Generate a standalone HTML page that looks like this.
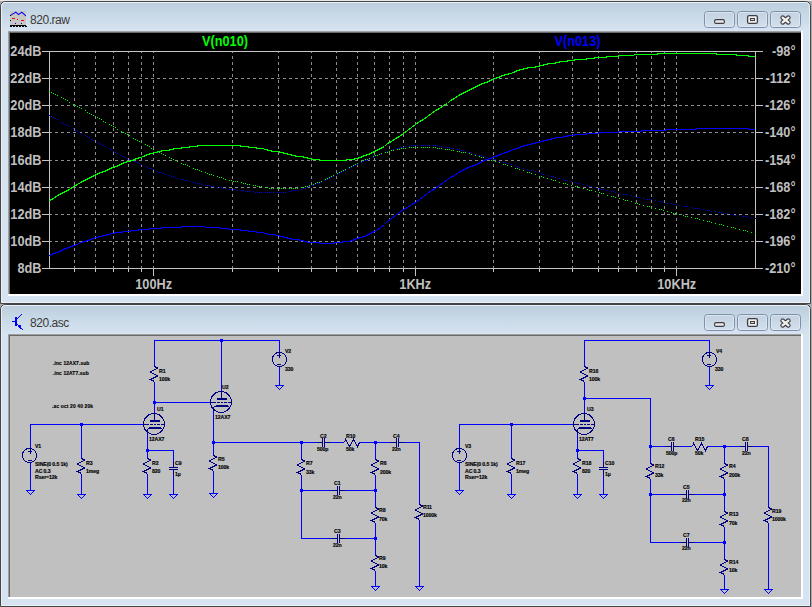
<!DOCTYPE html><html><head><meta charset="utf-8"><style>html,body{margin:0;padding:0;background:#ababab;width:812px;height:607px;overflow:hidden}svg{display:block}text{font-family:"Liberation Sans",sans-serif}</style></head><body>
<svg width="812" height="607" viewBox="0 0 812 607">
<defs>
<linearGradient id="tg" x1="0" y1="0" x2="0" y2="1"><stop offset="0" stop-color="#bccfde"/><stop offset="1" stop-color="#d7e4f1"/></linearGradient>
<linearGradient id="bg" x1="0" y1="0" x2="0" y2="1"><stop offset="0" stop-color="#c3d2e1"/><stop offset="1" stop-color="#d3dfec"/></linearGradient>
</defs>
<rect x="0" y="0" width="812" height="1" fill="#e8e8e8"/>
<path d="M0.5 303.5 V7 Q0.5 1.5 6 1.5 H805 Q810.5 1.5 810.5 7 V303.5 Z" fill="#d6e3f0" stroke="#454545" stroke-width="1"/>
<path d="M1.5 302.5 V7 Q1.5 2.5 6 2.5 H805 Q809.5 2.5 809.5 7 V302.5 Z" fill="none" stroke="#eaf0f7" stroke-width="1"/>
<path d="M2 31 V7 Q2 3 6 3 H805 Q809 3 809 7 V31 Z" fill="url(#tg)"/>
<g shape-rendering="crispEdges">
<rect x="8" y="31" width="794" height="1" fill="#a0a0a0"/>
<rect x="8" y="31" width="1" height="264" fill="#a0a0a0"/>
<rect x="9" y="32" width="792" height="1" fill="#696969"/>
<rect x="9" y="32" width="1" height="262" fill="#696969"/>
<rect x="8" y="294" width="795" height="2" fill="#ffffff"/>
<rect x="801" y="31" width="2" height="265" fill="#ffffff"/>
</g>
<text x="30" y="24" font-size="12" fill="#3a3a3a" style="letter-spacing:-0.45px">820.raw</text>
<rect x="704.5" y="11.5" width="30" height="16" rx="3" fill="url(#bg)" stroke="#7f8fab" stroke-width="1"/>
<rect x="705.5" y="12.5" width="28" height="14" rx="2" fill="none" stroke="#e4ecf4" stroke-opacity="0.7" stroke-width="1"/>
<rect x="714.6" y="19.6" width="9.8" height="3.8" rx="1.5" fill="#ebe9e4" stroke="#3d3d48" stroke-width="1.2"/>
<rect x="737.5" y="11.5" width="30" height="16" rx="3" fill="url(#bg)" stroke="#7f8fab" stroke-width="1"/>
<rect x="738.5" y="12.5" width="28" height="14" rx="2" fill="none" stroke="#e4ecf4" stroke-opacity="0.7" stroke-width="1"/>
<rect x="747.6" y="15.6" width="9.8" height="7.8" rx="1.5" fill="#f0efe9" stroke="#3d3d48" stroke-width="1.3"/>
<rect x="750.5" y="18.5" width="4" height="2" fill="#d8d8d8" stroke="#3d3d48" stroke-width="1"/>
<rect x="770.5" y="11.5" width="30" height="16" rx="3" fill="url(#bg)" stroke="#7f8fab" stroke-width="1"/>
<rect x="771.5" y="12.5" width="28" height="14" rx="2" fill="none" stroke="#e4ecf4" stroke-opacity="0.7" stroke-width="1"/>
<path d="M782.6 17.6 L788.4 22.4 M788.4 17.6 L782.6 22.4" stroke="#3d3d48" stroke-width="4.6" stroke-linecap="round"/>
<path d="M782.6 17.6 L788.4 22.4 M788.4 17.6 L782.6 22.4" stroke="#f2f1ec" stroke-width="2.3" stroke-linecap="round"/>
<g shape-rendering="crispEdges"><rect x="10" y="11" width="16" height="15" fill="#c6c6c6"/>
</g>
<polyline points="10.2,15.6 15.8,12.1 18.5,14.6 21.8,12.1 25.8,15.8" fill="none" stroke="#0000ff" stroke-width="1.1"/>
<g shape-rendering="crispEdges">
<rect x="10" y="15" width="1" height="1" fill="#000"/>
<rect x="12" y="18" width="3" height="1" fill="#ff0000"/>
<rect x="17" y="19" width="1" height="1" fill="#ff0000"/>
<rect x="21" y="20" width="3" height="1" fill="#ff0000"/>
<rect x="10" y="20" width="1" height="1" fill="#000"/>
<rect x="15" y="23" width="1" height="1" fill="#0000c0"/>
<rect x="21" y="23" width="1" height="1" fill="#0000c0"/>
<rect x="10" y="25" width="16" height="1" fill="#000"/>
<rect x="10" y="26" width="2" height="1" fill="#000"/>
<rect x="13" y="26" width="2" height="1" fill="#000"/>
<rect x="16" y="26" width="2" height="1" fill="#000"/>
<rect x="19" y="26" width="2" height="1" fill="#000"/>
<rect x="22" y="26" width="2" height="1" fill="#000"/>
<rect x="25" y="26" width="2" height="1" fill="#000"/>
</g>
<path d="M0.5 606.5 V310 Q0.5 304.5 6 304.5 H805 Q810.5 304.5 810.5 310 V606.5 Z" fill="#d6e3f0" stroke="#454545" stroke-width="1"/>
<path d="M1.5 605.5 V310 Q1.5 305.5 6 305.5 H805 Q809.5 305.5 809.5 310 V605.5 Z" fill="none" stroke="#eaf0f7" stroke-width="1"/>
<path d="M2 334 V310 Q2 306 6 306 H805 Q809 306 809 310 V334 Z" fill="url(#tg)"/>
<g shape-rendering="crispEdges">
<rect x="8" y="334" width="794" height="1" fill="#a0a0a0"/>
<rect x="8" y="334" width="1" height="264" fill="#a0a0a0"/>
<rect x="9" y="335" width="792" height="1" fill="#696969"/>
<rect x="9" y="335" width="1" height="262" fill="#696969"/>
<rect x="8" y="597" width="795" height="2" fill="#ffffff"/>
<rect x="801" y="334" width="2" height="265" fill="#ffffff"/>
</g>
<text x="30" y="327" font-size="12" fill="#3a3a3a" style="letter-spacing:-0.45px">820.asc</text>
<rect x="704.5" y="314.5" width="30" height="16" rx="3" fill="url(#bg)" stroke="#7f8fab" stroke-width="1"/>
<rect x="705.5" y="315.5" width="28" height="14" rx="2" fill="none" stroke="#e4ecf4" stroke-opacity="0.7" stroke-width="1"/>
<rect x="714.6" y="322.6" width="9.8" height="3.8" rx="1.5" fill="#ebe9e4" stroke="#3d3d48" stroke-width="1.2"/>
<rect x="737.5" y="314.5" width="30" height="16" rx="3" fill="url(#bg)" stroke="#7f8fab" stroke-width="1"/>
<rect x="738.5" y="315.5" width="28" height="14" rx="2" fill="none" stroke="#e4ecf4" stroke-opacity="0.7" stroke-width="1"/>
<rect x="747.6" y="318.6" width="9.8" height="7.8" rx="1.5" fill="#f0efe9" stroke="#3d3d48" stroke-width="1.3"/>
<rect x="750.5" y="321.5" width="4" height="2" fill="#d8d8d8" stroke="#3d3d48" stroke-width="1"/>
<rect x="770.5" y="314.5" width="30" height="16" rx="3" fill="url(#bg)" stroke="#7f8fab" stroke-width="1"/>
<rect x="771.5" y="315.5" width="28" height="14" rx="2" fill="none" stroke="#e4ecf4" stroke-opacity="0.7" stroke-width="1"/>
<path d="M782.6 320.6 L788.4 325.4 M788.4 320.6 L782.6 325.4" stroke="#3d3d48" stroke-width="4.6" stroke-linecap="round"/>
<path d="M782.6 320.6 L788.4 325.4 M788.4 320.6 L782.6 325.4" stroke="#f2f1ec" stroke-width="2.3" stroke-linecap="round"/>
<g shape-rendering="crispEdges">
<rect x="12" y="321" width="3" height="1" fill="#0000ff"/>
<rect x="15" y="317" width="2" height="9" fill="#0000ff"/>
<rect x="17" y="318" width="1" height="1" fill="#0000ff"/>
<rect x="18" y="317" width="1" height="1" fill="#0000ff"/>
<rect x="19" y="316" width="1" height="1" fill="#0000ff"/>
<rect x="20" y="315" width="1" height="1" fill="#0000ff"/>
<rect x="21" y="314" width="1" height="1" fill="#0000ff"/>
<rect x="17" y="324" width="1" height="1" fill="#0000ff"/>
<rect x="18" y="325" width="1" height="1" fill="#0000ff"/>
<rect x="19" y="326" width="1" height="1" fill="#0000ff"/>
<rect x="20" y="327" width="1" height="1" fill="#0000ff"/>
<rect x="21" y="328" width="1" height="1" fill="#0000ff"/>
<rect x="22" y="329" width="1" height="1" fill="#0000ff"/>
<rect x="18" y="326" width="2" height="1" fill="#0000ff"/>
<rect x="19" y="325" width="2" height="3" fill="#0000ff"/>
<rect x="20" y="327" width="1" height="2" fill="#0000ff"/>
</g>
<rect x="10" y="33" width="791" height="261" fill="#000"/>
<g shape-rendering="crispEdges">
<line x1="74.5" y1="51" x2="74.5" y2="268.5" stroke="#8c8c8c" stroke-width="1" stroke-dasharray="3 3" stroke-dashoffset="1"/>
<line x1="74.5" y1="268.5" x2="74.5" y2="271.5" stroke="#c4c4c4" stroke-width="1"/>
<line x1="95.5" y1="51" x2="95.5" y2="268.5" stroke="#8c8c8c" stroke-width="1" stroke-dasharray="3 3" stroke-dashoffset="1"/>
<line x1="95.5" y1="268.5" x2="95.5" y2="271.5" stroke="#c4c4c4" stroke-width="1"/>
<line x1="113.5" y1="51" x2="113.5" y2="268.5" stroke="#8c8c8c" stroke-width="1" stroke-dasharray="3 3" stroke-dashoffset="1"/>
<line x1="113.5" y1="268.5" x2="113.5" y2="271.5" stroke="#c4c4c4" stroke-width="1"/>
<line x1="128.5" y1="51" x2="128.5" y2="268.5" stroke="#8c8c8c" stroke-width="1" stroke-dasharray="3 3" stroke-dashoffset="1"/>
<line x1="128.5" y1="268.5" x2="128.5" y2="271.5" stroke="#c4c4c4" stroke-width="1"/>
<line x1="141.5" y1="51" x2="141.5" y2="268.5" stroke="#8c8c8c" stroke-width="1" stroke-dasharray="3 3" stroke-dashoffset="1"/>
<line x1="141.5" y1="268.5" x2="141.5" y2="271.5" stroke="#c4c4c4" stroke-width="1"/>
<line x1="153.5" y1="51" x2="153.5" y2="268.5" stroke="#8c8c8c" stroke-width="1" stroke-dasharray="3 3" stroke-dashoffset="1"/>
<line x1="153.5" y1="268.5" x2="153.5" y2="275.5" stroke="#c4c4c4" stroke-width="1"/>
<line x1="232.5" y1="51" x2="232.5" y2="268.5" stroke="#8c8c8c" stroke-width="1" stroke-dasharray="3 3" stroke-dashoffset="1"/>
<line x1="232.5" y1="268.5" x2="232.5" y2="271.5" stroke="#c4c4c4" stroke-width="1"/>
<line x1="278.5" y1="51" x2="278.5" y2="268.5" stroke="#8c8c8c" stroke-width="1" stroke-dasharray="3 3" stroke-dashoffset="1"/>
<line x1="278.5" y1="268.5" x2="278.5" y2="271.5" stroke="#c4c4c4" stroke-width="1"/>
<line x1="311.5" y1="51" x2="311.5" y2="268.5" stroke="#8c8c8c" stroke-width="1" stroke-dasharray="3 3" stroke-dashoffset="1"/>
<line x1="311.5" y1="268.5" x2="311.5" y2="271.5" stroke="#c4c4c4" stroke-width="1"/>
<line x1="336.5" y1="51" x2="336.5" y2="268.5" stroke="#8c8c8c" stroke-width="1" stroke-dasharray="3 3" stroke-dashoffset="1"/>
<line x1="336.5" y1="268.5" x2="336.5" y2="271.5" stroke="#c4c4c4" stroke-width="1"/>
<line x1="357.5" y1="51" x2="357.5" y2="268.5" stroke="#8c8c8c" stroke-width="1" stroke-dasharray="3 3" stroke-dashoffset="1"/>
<line x1="357.5" y1="268.5" x2="357.5" y2="271.5" stroke="#c4c4c4" stroke-width="1"/>
<line x1="374.5" y1="51" x2="374.5" y2="268.5" stroke="#8c8c8c" stroke-width="1" stroke-dasharray="3 3" stroke-dashoffset="1"/>
<line x1="374.5" y1="268.5" x2="374.5" y2="271.5" stroke="#c4c4c4" stroke-width="1"/>
<line x1="389.5" y1="51" x2="389.5" y2="268.5" stroke="#8c8c8c" stroke-width="1" stroke-dasharray="3 3" stroke-dashoffset="1"/>
<line x1="389.5" y1="268.5" x2="389.5" y2="271.5" stroke="#c4c4c4" stroke-width="1"/>
<line x1="403.5" y1="51" x2="403.5" y2="268.5" stroke="#8c8c8c" stroke-width="1" stroke-dasharray="3 3" stroke-dashoffset="1"/>
<line x1="403.5" y1="268.5" x2="403.5" y2="271.5" stroke="#c4c4c4" stroke-width="1"/>
<line x1="415.5" y1="51" x2="415.5" y2="268.5" stroke="#8c8c8c" stroke-width="1" stroke-dasharray="3 3" stroke-dashoffset="1"/>
<line x1="415.5" y1="268.5" x2="415.5" y2="275.5" stroke="#c4c4c4" stroke-width="1"/>
<line x1="493.5" y1="51" x2="493.5" y2="268.5" stroke="#8c8c8c" stroke-width="1" stroke-dasharray="3 3" stroke-dashoffset="1"/>
<line x1="493.5" y1="268.5" x2="493.5" y2="271.5" stroke="#c4c4c4" stroke-width="1"/>
<line x1="539.5" y1="51" x2="539.5" y2="268.5" stroke="#8c8c8c" stroke-width="1" stroke-dasharray="3 3" stroke-dashoffset="1"/>
<line x1="539.5" y1="268.5" x2="539.5" y2="271.5" stroke="#c4c4c4" stroke-width="1"/>
<line x1="572.5" y1="51" x2="572.5" y2="268.5" stroke="#8c8c8c" stroke-width="1" stroke-dasharray="3 3" stroke-dashoffset="1"/>
<line x1="572.5" y1="268.5" x2="572.5" y2="271.5" stroke="#c4c4c4" stroke-width="1"/>
<line x1="598.5" y1="51" x2="598.5" y2="268.5" stroke="#8c8c8c" stroke-width="1" stroke-dasharray="3 3" stroke-dashoffset="1"/>
<line x1="598.5" y1="268.5" x2="598.5" y2="271.5" stroke="#c4c4c4" stroke-width="1"/>
<line x1="618.5" y1="51" x2="618.5" y2="268.5" stroke="#8c8c8c" stroke-width="1" stroke-dasharray="3 3" stroke-dashoffset="1"/>
<line x1="618.5" y1="268.5" x2="618.5" y2="271.5" stroke="#c4c4c4" stroke-width="1"/>
<line x1="636.5" y1="51" x2="636.5" y2="268.5" stroke="#8c8c8c" stroke-width="1" stroke-dasharray="3 3" stroke-dashoffset="1"/>
<line x1="636.5" y1="268.5" x2="636.5" y2="271.5" stroke="#c4c4c4" stroke-width="1"/>
<line x1="651.5" y1="51" x2="651.5" y2="268.5" stroke="#8c8c8c" stroke-width="1" stroke-dasharray="3 3" stroke-dashoffset="1"/>
<line x1="651.5" y1="268.5" x2="651.5" y2="271.5" stroke="#c4c4c4" stroke-width="1"/>
<line x1="664.5" y1="51" x2="664.5" y2="268.5" stroke="#8c8c8c" stroke-width="1" stroke-dasharray="3 3" stroke-dashoffset="1"/>
<line x1="664.5" y1="268.5" x2="664.5" y2="271.5" stroke="#c4c4c4" stroke-width="1"/>
<line x1="676.5" y1="51" x2="676.5" y2="268.5" stroke="#8c8c8c" stroke-width="1" stroke-dasharray="3 3" stroke-dashoffset="1"/>
<line x1="676.5" y1="268.5" x2="676.5" y2="275.5" stroke="#c4c4c4" stroke-width="1"/>
<line x1="42" y1="51.5" x2="49.5" y2="51.5" stroke="#c4c4c4" stroke-width="1"/>
<line x1="755.5" y1="51.5" x2="763" y2="51.5" stroke="#c4c4c4" stroke-width="1"/>
<line x1="49" y1="78.5" x2="755.5" y2="78.5" stroke="#8c8c8c" stroke-width="1" stroke-dasharray="3 3"/>
<line x1="42" y1="78.5" x2="49.5" y2="78.5" stroke="#c4c4c4" stroke-width="1"/>
<line x1="755.5" y1="78.5" x2="763" y2="78.5" stroke="#c4c4c4" stroke-width="1"/>
<line x1="49" y1="105.5" x2="755.5" y2="105.5" stroke="#8c8c8c" stroke-width="1" stroke-dasharray="3 3"/>
<line x1="42" y1="105.5" x2="49.5" y2="105.5" stroke="#c4c4c4" stroke-width="1"/>
<line x1="755.5" y1="105.5" x2="763" y2="105.5" stroke="#c4c4c4" stroke-width="1"/>
<line x1="49" y1="132.5" x2="755.5" y2="132.5" stroke="#8c8c8c" stroke-width="1" stroke-dasharray="3 3"/>
<line x1="42" y1="132.5" x2="49.5" y2="132.5" stroke="#c4c4c4" stroke-width="1"/>
<line x1="755.5" y1="132.5" x2="763" y2="132.5" stroke="#c4c4c4" stroke-width="1"/>
<line x1="49" y1="160.5" x2="755.5" y2="160.5" stroke="#8c8c8c" stroke-width="1" stroke-dasharray="3 3"/>
<line x1="42" y1="160.5" x2="49.5" y2="160.5" stroke="#c4c4c4" stroke-width="1"/>
<line x1="755.5" y1="160.5" x2="763" y2="160.5" stroke="#c4c4c4" stroke-width="1"/>
<line x1="49" y1="187.5" x2="755.5" y2="187.5" stroke="#8c8c8c" stroke-width="1" stroke-dasharray="3 3"/>
<line x1="42" y1="187.5" x2="49.5" y2="187.5" stroke="#c4c4c4" stroke-width="1"/>
<line x1="755.5" y1="187.5" x2="763" y2="187.5" stroke="#c4c4c4" stroke-width="1"/>
<line x1="49" y1="214.5" x2="755.5" y2="214.5" stroke="#8c8c8c" stroke-width="1" stroke-dasharray="3 3"/>
<line x1="42" y1="214.5" x2="49.5" y2="214.5" stroke="#c4c4c4" stroke-width="1"/>
<line x1="755.5" y1="214.5" x2="763" y2="214.5" stroke="#c4c4c4" stroke-width="1"/>
<line x1="49" y1="241.5" x2="755.5" y2="241.5" stroke="#8c8c8c" stroke-width="1" stroke-dasharray="3 3"/>
<line x1="42" y1="241.5" x2="49.5" y2="241.5" stroke="#c4c4c4" stroke-width="1"/>
<line x1="755.5" y1="241.5" x2="763" y2="241.5" stroke="#c4c4c4" stroke-width="1"/>
<line x1="42" y1="268.5" x2="49.5" y2="268.5" stroke="#c4c4c4" stroke-width="1"/>
<line x1="755.5" y1="268.5" x2="763" y2="268.5" stroke="#c4c4c4" stroke-width="1"/>
<rect x="49.5" y="51.5" width="706.0" height="217.0" fill="none" stroke="#c4c4c4" stroke-width="1"/>
</g>
<text transform="translate(41.5,56.0) scale(0.91,1)" font-size="14" font-weight="bold" fill="#bfbfbf" text-anchor="end">24dB</text>
<text transform="translate(795.5,56.0) scale(0.91,1)" font-size="14" font-weight="bold" fill="#bfbfbf" text-anchor="end">-98°</text>
<text transform="translate(41.5,83.125) scale(0.91,1)" font-size="14" font-weight="bold" fill="#bfbfbf" text-anchor="end">22dB</text>
<text transform="translate(795.5,83.125) scale(0.91,1)" font-size="14" font-weight="bold" fill="#bfbfbf" text-anchor="end">-112°</text>
<text transform="translate(41.5,110.25) scale(0.91,1)" font-size="14" font-weight="bold" fill="#bfbfbf" text-anchor="end">20dB</text>
<text transform="translate(795.5,110.25) scale(0.91,1)" font-size="14" font-weight="bold" fill="#bfbfbf" text-anchor="end">-126°</text>
<text transform="translate(41.5,137.375) scale(0.91,1)" font-size="14" font-weight="bold" fill="#bfbfbf" text-anchor="end">18dB</text>
<text transform="translate(795.5,137.375) scale(0.91,1)" font-size="14" font-weight="bold" fill="#bfbfbf" text-anchor="end">-140°</text>
<text transform="translate(41.5,164.5) scale(0.91,1)" font-size="14" font-weight="bold" fill="#bfbfbf" text-anchor="end">16dB</text>
<text transform="translate(795.5,164.5) scale(0.91,1)" font-size="14" font-weight="bold" fill="#bfbfbf" text-anchor="end">-154°</text>
<text transform="translate(41.5,191.625) scale(0.91,1)" font-size="14" font-weight="bold" fill="#bfbfbf" text-anchor="end">14dB</text>
<text transform="translate(795.5,191.625) scale(0.91,1)" font-size="14" font-weight="bold" fill="#bfbfbf" text-anchor="end">-168°</text>
<text transform="translate(41.5,218.75) scale(0.91,1)" font-size="14" font-weight="bold" fill="#bfbfbf" text-anchor="end">12dB</text>
<text transform="translate(795.5,218.75) scale(0.91,1)" font-size="14" font-weight="bold" fill="#bfbfbf" text-anchor="end">-182°</text>
<text transform="translate(41.5,245.875) scale(0.91,1)" font-size="14" font-weight="bold" fill="#bfbfbf" text-anchor="end">10dB</text>
<text transform="translate(795.5,245.875) scale(0.91,1)" font-size="14" font-weight="bold" fill="#bfbfbf" text-anchor="end">-196°</text>
<text transform="translate(41.5,273.0) scale(0.91,1)" font-size="14" font-weight="bold" fill="#bfbfbf" text-anchor="end">8dB</text>
<text transform="translate(795.5,273.0) scale(0.91,1)" font-size="14" font-weight="bold" fill="#bfbfbf" text-anchor="end">-210°</text>
<text transform="translate(153.69,289) scale(0.91,1)" font-size="14" font-weight="bold" fill="#bfbfbf" text-anchor="middle">100Hz</text>
<text transform="translate(415.21,289) scale(0.91,1)" font-size="14" font-weight="bold" fill="#bfbfbf" text-anchor="middle">1KHz</text>
<text transform="translate(676.73,289) scale(0.91,1)" font-size="14" font-weight="bold" fill="#bfbfbf" text-anchor="middle">10KHz</text>
<text transform="translate(225,46) scale(0.91,1)" font-size="14" font-weight="bold" fill="#00ff00" text-anchor="middle">V(n010)</text>
<text transform="translate(577.5,46) scale(0.91,1)" font-size="14" font-weight="bold" fill="#0000ff" text-anchor="middle">V(n013)</text>
<svg x="49" y="33" width="707" height="235.5" overflow="hidden">
<g transform="translate(-49,-33)">
<g fill="#0000ff" shape-rendering="crispEdges"><rect x="49" y="115" width="1" height="1"/><rect x="51" y="116" width="1" height="1"/><rect x="53" y="117" width="1" height="1"/><rect x="55" y="118" width="1" height="1"/><rect x="57" y="119" width="1" height="1"/><rect x="61" y="122" width="1" height="1"/><rect x="63" y="123" width="1" height="1"/><rect x="65" y="124" width="1" height="1"/><rect x="67" y="125" width="1" height="1"/><rect x="69" y="126" width="1" height="1"/><rect x="73" y="128" width="1" height="1"/><rect x="75" y="130" width="1" height="1"/><rect x="77" y="131" width="1" height="1"/><rect x="79" y="132" width="1" height="1"/><rect x="81" y="133" width="1" height="1"/><rect x="85" y="135" width="1" height="1"/><rect x="87" y="136" width="1" height="1"/><rect x="89" y="137" width="1" height="1"/><rect x="91" y="139" width="1" height="1"/><rect x="93" y="140" width="1" height="1"/><rect x="97" y="142" width="1" height="1"/><rect x="99" y="143" width="1" height="1"/><rect x="101" y="144" width="1" height="1"/><rect x="103" y="145" width="1" height="1"/><rect x="105" y="146" width="1" height="1"/><rect x="109" y="148" width="1" height="1"/><rect x="111" y="149" width="1" height="1"/><rect x="113" y="151" width="1" height="1"/><rect x="115" y="152" width="1" height="1"/><rect x="117" y="153" width="1" height="1"/><rect x="121" y="155" width="1" height="1"/><rect x="123" y="156" width="1" height="1"/><rect x="125" y="157" width="1" height="1"/><rect x="127" y="158" width="1" height="1"/><rect x="129" y="159" width="1" height="1"/><rect x="133" y="161" width="1" height="1"/><rect x="135" y="161" width="1" height="1"/><rect x="137" y="162" width="1" height="1"/><rect x="139" y="163" width="1" height="1"/><rect x="141" y="164" width="1" height="1"/><rect x="145" y="166" width="1" height="1"/><rect x="147" y="167" width="1" height="1"/><rect x="149" y="168" width="1" height="1"/><rect x="151" y="168" width="1" height="1"/><rect x="153" y="169" width="1" height="1"/><rect x="157" y="171" width="1" height="1"/><rect x="159" y="172" width="1" height="1"/><rect x="161" y="172" width="1" height="1"/><rect x="163" y="173" width="1" height="1"/><rect x="165" y="174" width="1" height="1"/><rect x="169" y="175" width="1" height="1"/><rect x="171" y="176" width="1" height="1"/><rect x="173" y="176" width="1" height="1"/><rect x="175" y="177" width="1" height="1"/><rect x="177" y="178" width="1" height="1"/><rect x="181" y="179" width="1" height="1"/><rect x="183" y="179" width="1" height="1"/><rect x="185" y="180" width="1" height="1"/><rect x="187" y="180" width="1" height="1"/><rect x="189" y="181" width="1" height="1"/><rect x="193" y="182" width="1" height="1"/><rect x="195" y="182" width="1" height="1"/><rect x="197" y="183" width="1" height="1"/><rect x="199" y="183" width="1" height="1"/><rect x="201" y="184" width="1" height="1"/><rect x="205" y="185" width="1" height="1"/><rect x="207" y="185" width="1" height="1"/><rect x="209" y="185" width="1" height="1"/><rect x="211" y="186" width="1" height="1"/><rect x="213" y="186" width="1" height="1"/><rect x="217" y="187" width="1" height="1"/><rect x="219" y="187" width="1" height="1"/><rect x="221" y="187" width="1" height="1"/><rect x="223" y="188" width="1" height="1"/><rect x="225" y="188" width="1" height="1"/><rect x="229" y="189" width="1" height="1"/><rect x="231" y="189" width="1" height="1"/><rect x="233" y="189" width="1" height="1"/><rect x="235" y="189" width="1" height="1"/><rect x="237" y="190" width="1" height="1"/><rect x="241" y="190" width="1" height="1"/><rect x="243" y="190" width="1" height="1"/><rect x="245" y="191" width="1" height="1"/><rect x="247" y="191" width="1" height="1"/><rect x="249" y="191" width="1" height="1"/><rect x="253" y="191" width="1" height="1"/><rect x="255" y="192" width="1" height="1"/><rect x="257" y="192" width="1" height="1"/><rect x="259" y="192" width="1" height="1"/><rect x="261" y="192" width="1" height="1"/><rect x="265" y="192" width="1" height="1"/><rect x="267" y="192" width="1" height="1"/><rect x="269" y="192" width="1" height="1"/><rect x="271" y="192" width="1" height="1"/><rect x="273" y="192" width="1" height="1"/><rect x="277" y="192" width="1" height="1"/><rect x="279" y="192" width="1" height="1"/><rect x="281" y="192" width="1" height="1"/><rect x="283" y="192" width="1" height="1"/><rect x="285" y="192" width="1" height="1"/><rect x="289" y="191" width="1" height="1"/><rect x="291" y="191" width="1" height="1"/><rect x="293" y="190" width="1" height="1"/><rect x="295" y="190" width="1" height="1"/><rect x="297" y="190" width="1" height="1"/><rect x="301" y="189" width="1" height="1"/><rect x="303" y="188" width="1" height="1"/><rect x="305" y="188" width="1" height="1"/><rect x="307" y="187" width="1" height="1"/><rect x="309" y="186" width="1" height="1"/><rect x="313" y="185" width="1" height="1"/><rect x="315" y="184" width="1" height="1"/><rect x="317" y="183" width="1" height="1"/><rect x="319" y="183" width="1" height="1"/><rect x="321" y="182" width="1" height="1"/><rect x="325" y="180" width="1" height="1"/><rect x="327" y="179" width="1" height="1"/><rect x="329" y="178" width="1" height="1"/><rect x="331" y="177" width="1" height="1"/><rect x="333" y="176" width="1" height="1"/><rect x="337" y="174" width="1" height="1"/><rect x="339" y="173" width="1" height="1"/><rect x="341" y="172" width="1" height="1"/><rect x="343" y="171" width="1" height="1"/><rect x="345" y="170" width="1" height="1"/><rect x="349" y="168" width="1" height="1"/><rect x="351" y="167" width="1" height="1"/><rect x="353" y="166" width="1" height="1"/><rect x="355" y="165" width="1" height="1"/><rect x="357" y="164" width="1" height="1"/><rect x="361" y="162" width="1" height="1"/><rect x="363" y="161" width="1" height="1"/><rect x="365" y="160" width="1" height="1"/><rect x="367" y="160" width="1" height="1"/><rect x="369" y="159" width="1" height="1"/><rect x="373" y="157" width="1" height="1"/><rect x="375" y="156" width="1" height="1"/><rect x="377" y="155" width="1" height="1"/><rect x="379" y="154" width="1" height="1"/><rect x="381" y="154" width="1" height="1"/><rect x="385" y="152" width="1" height="1"/><rect x="387" y="151" width="1" height="1"/><rect x="389" y="151" width="1" height="1"/><rect x="391" y="150" width="1" height="1"/><rect x="393" y="149" width="1" height="1"/><rect x="397" y="148" width="1" height="1"/><rect x="399" y="148" width="1" height="1"/><rect x="401" y="147" width="1" height="1"/><rect x="403" y="147" width="1" height="1"/><rect x="405" y="146" width="1" height="1"/><rect x="409" y="146" width="1" height="1"/><rect x="411" y="145" width="1" height="1"/><rect x="413" y="145" width="1" height="1"/><rect x="415" y="145" width="1" height="1"/><rect x="417" y="145" width="1" height="1"/><rect x="421" y="145" width="1" height="1"/><rect x="423" y="145" width="1" height="1"/><rect x="425" y="145" width="1" height="1"/><rect x="427" y="145" width="1" height="1"/><rect x="429" y="145" width="1" height="1"/><rect x="433" y="145" width="1" height="1"/><rect x="435" y="145" width="1" height="1"/><rect x="437" y="145" width="1" height="1"/><rect x="439" y="146" width="1" height="1"/><rect x="441" y="146" width="1" height="1"/><rect x="445" y="147" width="1" height="1"/><rect x="447" y="147" width="1" height="1"/><rect x="449" y="147" width="1" height="1"/><rect x="451" y="148" width="1" height="1"/><rect x="453" y="148" width="1" height="1"/><rect x="457" y="149" width="1" height="1"/><rect x="459" y="149" width="1" height="1"/><rect x="461" y="150" width="1" height="1"/><rect x="463" y="150" width="1" height="1"/><rect x="465" y="151" width="1" height="1"/><rect x="469" y="152" width="1" height="1"/><rect x="471" y="152" width="1" height="1"/><rect x="475" y="154" width="1" height="1"/><rect x="479" y="155" width="1" height="1"/><rect x="481" y="155" width="1" height="1"/><rect x="483" y="156" width="1" height="1"/><rect x="487" y="157" width="1" height="1"/><rect x="491" y="158" width="1" height="1"/><rect x="493" y="159" width="1" height="1"/><rect x="495" y="159" width="1" height="1"/><rect x="499" y="161" width="1" height="1"/><rect x="503" y="162" width="1" height="1"/><rect x="505" y="162" width="1" height="1"/><rect x="507" y="163" width="1" height="1"/><rect x="511" y="164" width="1" height="1"/><rect x="515" y="165" width="1" height="1"/><rect x="517" y="166" width="1" height="1"/><rect x="519" y="167" width="1" height="1"/><rect x="523" y="168" width="1" height="1"/><rect x="527" y="169" width="1" height="1"/><rect x="529" y="170" width="1" height="1"/><rect x="531" y="170" width="1" height="1"/><rect x="535" y="171" width="1" height="1"/><rect x="539" y="172" width="1" height="1"/><rect x="541" y="173" width="1" height="1"/><rect x="543" y="174" width="1" height="1"/><rect x="547" y="175" width="1" height="1"/><rect x="551" y="176" width="1" height="1"/><rect x="553" y="176" width="1" height="1"/><rect x="555" y="177" width="1" height="1"/><rect x="559" y="178" width="1" height="1"/><rect x="563" y="179" width="1" height="1"/><rect x="565" y="180" width="1" height="1"/><rect x="567" y="180" width="1" height="1"/><rect x="571" y="181" width="1" height="1"/><rect x="575" y="182" width="1" height="1"/><rect x="577" y="183" width="1" height="1"/><rect x="579" y="183" width="1" height="1"/><rect x="583" y="184" width="1" height="1"/><rect x="587" y="185" width="1" height="1"/><rect x="589" y="186" width="1" height="1"/><rect x="591" y="186" width="1" height="1"/><rect x="595" y="187" width="1" height="1"/><rect x="599" y="188" width="1" height="1"/><rect x="601" y="189" width="1" height="1"/><rect x="603" y="189" width="1" height="1"/><rect x="607" y="190" width="1" height="1"/><rect x="611" y="191" width="1" height="1"/><rect x="613" y="191" width="1" height="1"/><rect x="615" y="192" width="1" height="1"/><rect x="619" y="193" width="1" height="1"/><rect x="623" y="194" width="1" height="1"/><rect x="625" y="194" width="1" height="1"/><rect x="627" y="194" width="1" height="1"/><rect x="631" y="195" width="1" height="1"/><rect x="635" y="196" width="1" height="1"/><rect x="637" y="197" width="1" height="1"/><rect x="639" y="197" width="1" height="1"/><rect x="643" y="198" width="1" height="1"/><rect x="647" y="199" width="1" height="1"/><rect x="649" y="199" width="1" height="1"/><rect x="651" y="199" width="1" height="1"/><rect x="655" y="200" width="1" height="1"/><rect x="659" y="201" width="1" height="1"/><rect x="661" y="201" width="1" height="1"/><rect x="663" y="202" width="1" height="1"/><rect x="667" y="203" width="1" height="1"/><rect x="671" y="203" width="1" height="1"/><rect x="673" y="204" width="1" height="1"/><rect x="675" y="204" width="1" height="1"/><rect x="679" y="205" width="1" height="1"/><rect x="683" y="206" width="1" height="1"/><rect x="685" y="206" width="1" height="1"/><rect x="687" y="206" width="1" height="1"/><rect x="691" y="207" width="1" height="1"/><rect x="695" y="208" width="1" height="1"/><rect x="697" y="208" width="1" height="1"/><rect x="699" y="208" width="1" height="1"/><rect x="703" y="209" width="1" height="1"/><rect x="707" y="210" width="1" height="1"/><rect x="709" y="210" width="1" height="1"/><rect x="711" y="211" width="1" height="1"/><rect x="715" y="211" width="1" height="1"/><rect x="719" y="212" width="1" height="1"/><rect x="721" y="212" width="1" height="1"/><rect x="723" y="213" width="1" height="1"/><rect x="727" y="213" width="1" height="1"/><rect x="731" y="214" width="1" height="1"/><rect x="733" y="214" width="1" height="1"/><rect x="735" y="215" width="1" height="1"/><rect x="739" y="215" width="1" height="1"/><rect x="743" y="216" width="1" height="1"/><rect x="745" y="216" width="1" height="1"/><rect x="747" y="217" width="1" height="1"/><rect x="751" y="217" width="1" height="1"/><rect x="755" y="218" width="1" height="1"/></g>
<g fill="#00ff00" shape-rendering="crispEdges"><rect x="49" y="91" width="1" height="1"/><rect x="51" y="92" width="1" height="1"/><rect x="53" y="93" width="1" height="1"/><rect x="55" y="94" width="1" height="1"/><rect x="57" y="95" width="1" height="1"/><rect x="61" y="97" width="1" height="1"/><rect x="63" y="98" width="1" height="1"/><rect x="65" y="99" width="1" height="1"/><rect x="67" y="100" width="1" height="1"/><rect x="69" y="102" width="1" height="1"/><rect x="73" y="104" width="1" height="1"/><rect x="75" y="105" width="1" height="1"/><rect x="77" y="106" width="1" height="1"/><rect x="79" y="107" width="1" height="1"/><rect x="81" y="108" width="1" height="1"/><rect x="85" y="110" width="1" height="1"/><rect x="87" y="112" width="1" height="1"/><rect x="89" y="113" width="1" height="1"/><rect x="91" y="114" width="1" height="1"/><rect x="93" y="115" width="1" height="1"/><rect x="97" y="117" width="1" height="1"/><rect x="99" y="118" width="1" height="1"/><rect x="101" y="119" width="1" height="1"/><rect x="103" y="121" width="1" height="1"/><rect x="105" y="122" width="1" height="1"/><rect x="109" y="124" width="1" height="1"/><rect x="111" y="125" width="1" height="1"/><rect x="113" y="126" width="1" height="1"/><rect x="115" y="127" width="1" height="1"/><rect x="117" y="129" width="1" height="1"/><rect x="121" y="131" width="1" height="1"/><rect x="123" y="132" width="1" height="1"/><rect x="125" y="133" width="1" height="1"/><rect x="127" y="134" width="1" height="1"/><rect x="129" y="135" width="1" height="1"/><rect x="133" y="138" width="1" height="1"/><rect x="135" y="139" width="1" height="1"/><rect x="137" y="140" width="1" height="1"/><rect x="139" y="141" width="1" height="1"/><rect x="141" y="142" width="1" height="1"/><rect x="145" y="144" width="1" height="1"/><rect x="147" y="145" width="1" height="1"/><rect x="149" y="146" width="1" height="1"/><rect x="151" y="148" width="1" height="1"/><rect x="153" y="149" width="1" height="1"/><rect x="157" y="151" width="1" height="1"/><rect x="159" y="152" width="1" height="1"/><rect x="161" y="153" width="1" height="1"/><rect x="163" y="154" width="1" height="1"/><rect x="165" y="155" width="1" height="1"/><rect x="169" y="157" width="1" height="1"/><rect x="171" y="158" width="1" height="1"/><rect x="173" y="159" width="1" height="1"/><rect x="175" y="160" width="1" height="1"/><rect x="177" y="161" width="1" height="1"/><rect x="181" y="163" width="1" height="1"/><rect x="183" y="164" width="1" height="1"/><rect x="185" y="164" width="1" height="1"/><rect x="187" y="165" width="1" height="1"/><rect x="189" y="166" width="1" height="1"/><rect x="193" y="168" width="1" height="1"/><rect x="195" y="169" width="1" height="1"/><rect x="197" y="169" width="1" height="1"/><rect x="199" y="170" width="1" height="1"/><rect x="201" y="171" width="1" height="1"/><rect x="205" y="172" width="1" height="1"/><rect x="207" y="173" width="1" height="1"/><rect x="209" y="174" width="1" height="1"/><rect x="211" y="174" width="1" height="1"/><rect x="213" y="175" width="1" height="1"/><rect x="217" y="176" width="1" height="1"/><rect x="219" y="177" width="1" height="1"/><rect x="221" y="177" width="1" height="1"/><rect x="223" y="178" width="1" height="1"/><rect x="225" y="179" width="1" height="1"/><rect x="229" y="180" width="1" height="1"/><rect x="231" y="180" width="1" height="1"/><rect x="233" y="181" width="1" height="1"/><rect x="235" y="181" width="1" height="1"/><rect x="237" y="181" width="1" height="1"/><rect x="241" y="182" width="1" height="1"/><rect x="243" y="183" width="1" height="1"/><rect x="245" y="183" width="1" height="1"/><rect x="247" y="184" width="1" height="1"/><rect x="249" y="184" width="1" height="1"/><rect x="253" y="185" width="1" height="1"/><rect x="255" y="185" width="1" height="1"/><rect x="257" y="186" width="1" height="1"/><rect x="259" y="186" width="1" height="1"/><rect x="261" y="186" width="1" height="1"/><rect x="265" y="187" width="1" height="1"/><rect x="267" y="187" width="1" height="1"/><rect x="269" y="188" width="1" height="1"/><rect x="271" y="188" width="1" height="1"/><rect x="273" y="188" width="1" height="1"/><rect x="277" y="188" width="1" height="1"/><rect x="279" y="188" width="1" height="1"/><rect x="281" y="188" width="1" height="1"/><rect x="283" y="188" width="1" height="1"/><rect x="285" y="188" width="1" height="1"/><rect x="289" y="188" width="1" height="1"/><rect x="291" y="188" width="1" height="1"/><rect x="293" y="188" width="1" height="1"/><rect x="295" y="188" width="1" height="1"/><rect x="297" y="188" width="1" height="1"/><rect x="301" y="187" width="1" height="1"/><rect x="303" y="187" width="1" height="1"/><rect x="305" y="186" width="1" height="1"/><rect x="307" y="186" width="1" height="1"/><rect x="309" y="185" width="1" height="1"/><rect x="313" y="184" width="1" height="1"/><rect x="315" y="183" width="1" height="1"/><rect x="317" y="182" width="1" height="1"/><rect x="319" y="182" width="1" height="1"/><rect x="321" y="181" width="1" height="1"/><rect x="325" y="179" width="1" height="1"/><rect x="327" y="178" width="1" height="1"/><rect x="329" y="177" width="1" height="1"/><rect x="331" y="176" width="1" height="1"/><rect x="333" y="175" width="1" height="1"/><rect x="337" y="173" width="1" height="1"/><rect x="339" y="172" width="1" height="1"/><rect x="341" y="171" width="1" height="1"/><rect x="343" y="170" width="1" height="1"/><rect x="345" y="169" width="1" height="1"/><rect x="349" y="167" width="1" height="1"/><rect x="351" y="166" width="1" height="1"/><rect x="353" y="165" width="1" height="1"/><rect x="355" y="164" width="1" height="1"/><rect x="357" y="163" width="1" height="1"/><rect x="361" y="161" width="1" height="1"/><rect x="363" y="160" width="1" height="1"/><rect x="365" y="159" width="1" height="1"/><rect x="367" y="159" width="1" height="1"/><rect x="369" y="158" width="1" height="1"/><rect x="373" y="156" width="1" height="1"/><rect x="375" y="155" width="1" height="1"/><rect x="377" y="155" width="1" height="1"/><rect x="379" y="154" width="1" height="1"/><rect x="381" y="153" width="1" height="1"/><rect x="385" y="152" width="1" height="1"/><rect x="387" y="152" width="1" height="1"/><rect x="389" y="151" width="1" height="1"/><rect x="391" y="150" width="1" height="1"/><rect x="393" y="150" width="1" height="1"/><rect x="397" y="149" width="1" height="1"/><rect x="399" y="149" width="1" height="1"/><rect x="401" y="148" width="1" height="1"/><rect x="403" y="148" width="1" height="1"/><rect x="405" y="148" width="1" height="1"/><rect x="409" y="147" width="1" height="1"/><rect x="411" y="147" width="1" height="1"/><rect x="413" y="147" width="1" height="1"/><rect x="415" y="147" width="1" height="1"/><rect x="417" y="147" width="1" height="1"/><rect x="421" y="147" width="1" height="1"/><rect x="423" y="147" width="1" height="1"/><rect x="425" y="147" width="1" height="1"/><rect x="427" y="147" width="1" height="1"/><rect x="429" y="147" width="1" height="1"/><rect x="433" y="147" width="1" height="1"/><rect x="435" y="147" width="1" height="1"/><rect x="437" y="148" width="1" height="1"/><rect x="439" y="148" width="1" height="1"/><rect x="441" y="148" width="1" height="1"/><rect x="445" y="149" width="1" height="1"/><rect x="447" y="149" width="1" height="1"/><rect x="449" y="149" width="1" height="1"/><rect x="451" y="150" width="1" height="1"/><rect x="453" y="150" width="1" height="1"/><rect x="457" y="151" width="1" height="1"/><rect x="459" y="151" width="1" height="1"/><rect x="461" y="152" width="1" height="1"/><rect x="463" y="152" width="1" height="1"/><rect x="465" y="152" width="1" height="1"/><rect x="469" y="153" width="1" height="1"/><rect x="471" y="154" width="1" height="1"/><rect x="475" y="155" width="1" height="1"/><rect x="479" y="156" width="1" height="1"/><rect x="481" y="157" width="1" height="1"/><rect x="483" y="157" width="1" height="1"/><rect x="487" y="159" width="1" height="1"/><rect x="491" y="160" width="1" height="1"/><rect x="493" y="160" width="1" height="1"/><rect x="495" y="161" width="1" height="1"/><rect x="499" y="162" width="1" height="1"/><rect x="503" y="164" width="1" height="1"/><rect x="505" y="164" width="1" height="1"/><rect x="507" y="165" width="1" height="1"/><rect x="511" y="166" width="1" height="1"/><rect x="515" y="168" width="1" height="1"/><rect x="517" y="168" width="1" height="1"/><rect x="519" y="169" width="1" height="1"/><rect x="523" y="170" width="1" height="1"/><rect x="527" y="172" width="1" height="1"/><rect x="529" y="172" width="1" height="1"/><rect x="531" y="173" width="1" height="1"/><rect x="535" y="174" width="1" height="1"/><rect x="539" y="176" width="1" height="1"/><rect x="541" y="176" width="1" height="1"/><rect x="543" y="177" width="1" height="1"/><rect x="547" y="178" width="1" height="1"/><rect x="551" y="179" width="1" height="1"/><rect x="553" y="180" width="1" height="1"/><rect x="555" y="180" width="1" height="1"/><rect x="559" y="182" width="1" height="1"/><rect x="563" y="183" width="1" height="1"/><rect x="565" y="183" width="1" height="1"/><rect x="567" y="184" width="1" height="1"/><rect x="571" y="185" width="1" height="1"/><rect x="575" y="186" width="1" height="1"/><rect x="577" y="186" width="1" height="1"/><rect x="579" y="187" width="1" height="1"/><rect x="583" y="188" width="1" height="1"/><rect x="587" y="189" width="1" height="1"/><rect x="589" y="190" width="1" height="1"/><rect x="591" y="190" width="1" height="1"/><rect x="595" y="191" width="1" height="1"/><rect x="599" y="192" width="1" height="1"/><rect x="601" y="193" width="1" height="1"/><rect x="603" y="193" width="1" height="1"/><rect x="607" y="195" width="1" height="1"/><rect x="611" y="196" width="1" height="1"/><rect x="613" y="196" width="1" height="1"/><rect x="615" y="197" width="1" height="1"/><rect x="619" y="198" width="1" height="1"/><rect x="623" y="199" width="1" height="1"/><rect x="625" y="200" width="1" height="1"/><rect x="627" y="200" width="1" height="1"/><rect x="631" y="201" width="1" height="1"/><rect x="635" y="203" width="1" height="1"/><rect x="637" y="203" width="1" height="1"/><rect x="639" y="204" width="1" height="1"/><rect x="643" y="205" width="1" height="1"/><rect x="647" y="206" width="1" height="1"/><rect x="649" y="206" width="1" height="1"/><rect x="651" y="207" width="1" height="1"/><rect x="655" y="208" width="1" height="1"/><rect x="659" y="209" width="1" height="1"/><rect x="661" y="209" width="1" height="1"/><rect x="663" y="210" width="1" height="1"/><rect x="667" y="211" width="1" height="1"/><rect x="671" y="212" width="1" height="1"/><rect x="673" y="213" width="1" height="1"/><rect x="675" y="213" width="1" height="1"/><rect x="679" y="214" width="1" height="1"/><rect x="683" y="215" width="1" height="1"/><rect x="685" y="216" width="1" height="1"/><rect x="687" y="216" width="1" height="1"/><rect x="691" y="217" width="1" height="1"/><rect x="695" y="218" width="1" height="1"/><rect x="697" y="218" width="1" height="1"/><rect x="699" y="219" width="1" height="1"/><rect x="703" y="220" width="1" height="1"/><rect x="707" y="221" width="1" height="1"/><rect x="709" y="221" width="1" height="1"/><rect x="711" y="222" width="1" height="1"/><rect x="715" y="223" width="1" height="1"/><rect x="719" y="224" width="1" height="1"/><rect x="721" y="224" width="1" height="1"/><rect x="723" y="225" width="1" height="1"/><rect x="727" y="226" width="1" height="1"/><rect x="731" y="227" width="1" height="1"/><rect x="733" y="227" width="1" height="1"/><rect x="735" y="228" width="1" height="1"/><rect x="739" y="229" width="1" height="1"/><rect x="743" y="230" width="1" height="1"/><rect x="745" y="230" width="1" height="1"/><rect x="747" y="231" width="1" height="1"/><rect x="751" y="232" width="1" height="1"/><rect x="755" y="233" width="1" height="1"/></g>
<polyline points="49.5,255.5 53.5,253.5 57.5,252.5 61.5,250.5 65.5,248.5 69.5,247.5 73.5,245.5 77.5,244.5 80.5,242.5 84.5,241.5 88.5,240.5 92.5,238.5 96.5,237.5 100.5,236.5 104.5,235.5 108.5,234.5 112.5,233.5 116.5,232.5 120.5,232.5 124.5,231.5 128.5,231.5 132.5,230.5 136.5,230.5 140.5,229.5 143.5,229.5 147.5,229.5 151.5,228.5 155.5,228.5 159.5,228.5 163.5,227.5 167.5,227.5 171.5,227.5 175.5,227.5 179.5,227.5 183.5,226.5 187.5,226.5 191.5,226.5 195.5,226.5 199.5,226.5 203.5,226.5 206.5,227.5 210.5,227.5 214.5,227.5 218.5,227.5 222.5,228.5 226.5,228.5 230.5,229.5 234.5,229.5 238.5,229.5 242.5,230.5 246.5,230.5 250.5,231.5 254.5,231.5 258.5,232.5 262.5,232.5 265.5,233.5 269.5,234.5 273.5,234.5 277.5,235.5 281.5,236.5 285.5,237.5 289.5,238.5 293.5,239.5 297.5,239.5 301.5,240.5 305.5,241.5 309.5,242.5 313.5,242.5 317.5,242.5 321.5,243.5 325.5,243.5 328.5,243.5 332.5,243.5 336.5,242.5 340.5,242.5 344.5,241.5 348.5,241.5 352.5,240.5 356.5,238.5 360.5,237.5 364.5,236.5 368.5,234.5 372.5,232.5 376.5,230.5 380.5,227.5 384.5,224.5 387.5,221.5 391.5,218.5 395.5,215.5 399.5,212.5 403.5,209.5 407.5,207.5 411.5,204.5 415.5,202.5 419.5,199.5 423.5,196.5 427.5,193.5 431.5,190.5 435.5,188.5 439.5,185.5 443.5,182.5 447.5,179.5 450.5,177.5 454.5,175.5 458.5,172.5 462.5,170.5 466.5,168.5 470.5,166.5 474.5,165.5 478.5,163.5 482.5,161.5 486.5,159.5 490.5,158.5 494.5,156.5 498.5,155.5 502.5,153.5 506.5,152.5 510.5,150.5 513.5,149.5 517.5,148.5 521.5,146.5 525.5,145.5 529.5,144.5 533.5,143.5 537.5,142.5 541.5,141.5 545.5,140.5 549.5,139.5 553.5,138.5 557.5,137.5 561.5,137.5 565.5,136.5 569.5,135.5 572.5,135.5 576.5,134.5 580.5,134.5 584.5,134.5 588.5,133.5 592.5,133.5 596.5,133.5 600.5,132.5 604.5,132.5 608.5,132.5 612.5,132.5 616.5,132.5 620.5,131.5 624.5,131.5 628.5,131.5 632.5,131.5 635.5,131.5 639.5,131.5 643.5,130.5 647.5,130.5 651.5,130.5 655.5,130.5 659.5,130.5 663.5,130.5 667.5,129.5 671.5,129.5 675.5,129.5 679.5,129.5 683.5,129.5 687.5,129.5 691.5,129.5 694.5,129.5 698.5,128.5 702.5,128.5 706.5,128.5 710.5,128.5 714.5,128.5 718.5,128.5 722.5,128.5 726.5,128.5 730.5,128.5 734.5,128.5 738.5,128.5 742.5,128.5 746.5,128.5 750.5,129.5 754.5,129.5" fill="none" stroke="#0000ff" stroke-width="1" shape-rendering="crispEdges"/>
<polyline points="49.5,200.5 53.5,198.5 57.5,195.5 61.5,193.5 65.5,191.5 69.5,189.5 73.5,186.5 77.5,184.5 80.5,182.5 84.5,180.5 88.5,178.5 92.5,176.5 96.5,174.5 100.5,172.5 104.5,171.5 108.5,169.5 112.5,167.5 116.5,166.5 120.5,164.5 124.5,162.5 128.5,161.5 132.5,160.5 136.5,158.5 140.5,157.5 143.5,156.5 147.5,154.5 151.5,153.5 155.5,152.5 159.5,151.5 163.5,150.5 167.5,150.5 171.5,149.5 175.5,148.5 179.5,148.5 183.5,147.5 187.5,147.5 191.5,146.5 195.5,146.5 199.5,145.5 203.5,145.5 206.5,145.5 210.5,145.5 214.5,145.5 218.5,145.5 222.5,145.5 226.5,145.5 230.5,145.5 234.5,145.5 238.5,145.5 242.5,146.5 246.5,146.5 250.5,147.5 254.5,147.5 258.5,148.5 262.5,148.5 265.5,149.5 269.5,150.5 273.5,151.5 277.5,151.5 281.5,152.5 285.5,153.5 289.5,154.5 293.5,155.5 297.5,156.5 301.5,156.5 305.5,157.5 309.5,158.5 313.5,159.5 317.5,159.5 321.5,160.5 325.5,160.5 328.5,160.5 332.5,160.5 336.5,160.5 340.5,160.5 344.5,160.5 348.5,159.5 352.5,159.5 356.5,158.5 360.5,157.5 364.5,155.5 368.5,154.5 372.5,152.5 376.5,150.5 380.5,148.5 384.5,146.5 387.5,143.5 391.5,141.5 395.5,138.5 399.5,136.5 403.5,133.5 407.5,130.5 411.5,127.5 415.5,124.5 419.5,121.5 423.5,119.5 427.5,116.5 431.5,113.5 435.5,110.5 439.5,108.5 443.5,105.5 447.5,103.5 450.5,100.5 454.5,98.5 458.5,95.5 462.5,93.5 466.5,91.5 470.5,89.5 474.5,87.5 478.5,85.5 482.5,83.5 486.5,82.5 490.5,80.5 494.5,78.5 498.5,77.5 502.5,75.5 506.5,74.5 510.5,73.5 513.5,72.5 517.5,70.5 521.5,69.5 525.5,68.5 529.5,67.5 533.5,67.5 537.5,66.5 541.5,65.5 545.5,64.5 549.5,63.5 553.5,63.5 557.5,62.5 561.5,61.5 565.5,61.5 569.5,60.5 572.5,60.5 576.5,59.5 580.5,59.5 584.5,59.5 588.5,58.5 592.5,58.5 596.5,57.5 600.5,57.5 604.5,57.5 608.5,56.5 612.5,56.5 616.5,56.5 620.5,55.5 624.5,55.5 628.5,55.5 632.5,55.5 635.5,54.5 639.5,54.5 643.5,54.5 647.5,54.5 651.5,54.5 655.5,54.5 659.5,53.5 663.5,53.5 667.5,53.5 671.5,53.5 675.5,53.5 679.5,53.5 683.5,53.5 687.5,53.5 691.5,53.5 694.5,53.5 698.5,53.5 702.5,53.5 706.5,53.5 710.5,53.5 714.5,53.5 718.5,54.5 722.5,54.5 726.5,54.5 730.5,54.5 734.5,54.5 738.5,55.5 742.5,55.5 746.5,55.5 750.5,56.5 754.5,56.5" fill="none" stroke="#00ff00" stroke-width="1" shape-rendering="crispEdges"/>
</g></svg>
<rect x="10" y="336" width="791" height="261" fill="#c0c0c0"/>
<g shape-rendering="crispEdges">
<rect x="154" y="340" width="126" height="1" fill="#0000ff"/>
<rect x="154" y="340" width="1" height="27" fill="#0000ff"/>
<polyline points="154.5,366.5 157.5,368.0 150.5,372.0 157.5,376.0 150.5,379.5 154.5,381.5" fill="none" stroke="#000080" stroke-width="1"/>
<rect x="154" y="382" width="1" height="32" fill="#0000ff"/>
<rect x="153" y="401" width="3" height="3" fill="#0000ff"/>
<rect x="154" y="402" width="57" height="1" fill="#0000ff"/>
<rect x="220" y="339" width="3" height="3" fill="#0000ff"/>
<rect x="221" y="340" width="1" height="51" fill="#0000ff"/>
<rect x="279" y="340" width="1" height="12" fill="#0000ff"/>
<circle cx="279.5" cy="359.5" r="7.1" fill="none" stroke="#000080" stroke-width="1"/>
<rect x="279" y="352" width="1" height="6" fill="#000080"/>
<rect x="277" y="355" width="4" height="1" fill="#000080"/>
<rect x="277" y="364" width="4" height="1" fill="#000080"/>
<rect x="279" y="367" width="1" height="19" fill="#0000ff"/>
<rect x="275" y="385" width="9" height="1" fill="#0000ff"/>
<rect x="276" y="386" width="1" height="1" fill="#0000ff"/>
<rect x="282" y="386" width="1" height="1" fill="#0000ff"/>
<rect x="277" y="387" width="1" height="1" fill="#0000ff"/>
<rect x="281" y="387" width="1" height="1" fill="#0000ff"/>
<rect x="278" y="388" width="1" height="1" fill="#0000ff"/>
<rect x="280" y="388" width="1" height="1" fill="#0000ff"/>
<rect x="279" y="389" width="1" height="1" fill="#0000ff"/>
<rect x="279" y="389" width="1" height="1" fill="#0000ff"/>
<rect x="30" y="424" width="114" height="1" fill="#0000ff"/>
<rect x="80" y="423" width="3" height="3" fill="#0000ff"/>
<rect x="30" y="424" width="1" height="24" fill="#0000ff"/>
<circle cx="29.5" cy="455.5" r="7.1" fill="none" stroke="#000080" stroke-width="1"/>
<rect x="30" y="448" width="1" height="6" fill="#000080"/>
<rect x="28" y="451" width="4" height="1" fill="#000080"/>
<rect x="28" y="460" width="4" height="1" fill="#000080"/>
<rect x="30" y="463" width="1" height="28" fill="#0000ff"/>
<rect x="26" y="490" width="9" height="1" fill="#0000ff"/>
<rect x="27" y="491" width="1" height="1" fill="#0000ff"/>
<rect x="33" y="491" width="1" height="1" fill="#0000ff"/>
<rect x="28" y="492" width="1" height="1" fill="#0000ff"/>
<rect x="32" y="492" width="1" height="1" fill="#0000ff"/>
<rect x="29" y="493" width="1" height="1" fill="#0000ff"/>
<rect x="31" y="493" width="1" height="1" fill="#0000ff"/>
<rect x="30" y="494" width="1" height="1" fill="#0000ff"/>
<rect x="30" y="494" width="1" height="1" fill="#0000ff"/>
<rect x="81" y="424" width="1" height="35" fill="#0000ff"/>
<polyline points="81.5,458.5 84.5,460.0 77.5,464.0 84.5,468.0 77.5,471.5 81.5,473.5" fill="none" stroke="#000080" stroke-width="1"/>
<rect x="81" y="474" width="1" height="21" fill="#0000ff"/>
<rect x="77" y="494" width="9" height="1" fill="#0000ff"/>
<rect x="78" y="495" width="1" height="1" fill="#0000ff"/>
<rect x="84" y="495" width="1" height="1" fill="#0000ff"/>
<rect x="79" y="496" width="1" height="1" fill="#0000ff"/>
<rect x="83" y="496" width="1" height="1" fill="#0000ff"/>
<rect x="80" y="497" width="1" height="1" fill="#0000ff"/>
<rect x="82" y="497" width="1" height="1" fill="#0000ff"/>
<rect x="81" y="498" width="1" height="1" fill="#0000ff"/>
<rect x="81" y="498" width="1" height="1" fill="#0000ff"/>
<circle cx="154" cy="424" r="10.5" fill="none" stroke="#000080" stroke-width="1"/>
<rect x="154" y="413" width="1" height="7" fill="#000080"/>
<rect x="150" y="420" width="10" height="2" fill="#000080"/>
<rect x="143" y="424" width="6" height="1" fill="#000080"/>
<rect x="150" y="424" width="3" height="1" fill="#000080"/>
<rect x="154" y="424" width="2" height="1" fill="#000080"/>
<rect x="157" y="424" width="3" height="1" fill="#000080"/>
<rect x="161" y="424" width="4" height="1" fill="#000080"/>
<rect x="149" y="427" width="12" height="1" fill="#000080"/>
<rect x="148" y="428" width="14" height="1" fill="#000080"/>
<rect x="148" y="428" width="1" height="1" fill="#000080"/>
<rect x="147" y="429" width="1" height="6" fill="#000080"/>
<rect x="147" y="434" width="1" height="17" fill="#0000ff"/>
<rect x="146" y="449" width="3" height="3" fill="#0000ff"/>
<rect x="147" y="450" width="27" height="1" fill="#0000ff"/>
<rect x="173" y="450" width="1" height="12" fill="#0000ff"/>
<rect x="147" y="450" width="1" height="9" fill="#0000ff"/>
<polyline points="147.5,458.5 150.5,460.0 143.5,464.0 150.5,468.0 143.5,471.5 147.5,473.5" fill="none" stroke="#000080" stroke-width="1"/>
<rect x="147" y="474" width="1" height="21" fill="#0000ff"/>
<rect x="143" y="494" width="9" height="1" fill="#0000ff"/>
<rect x="144" y="495" width="1" height="1" fill="#0000ff"/>
<rect x="150" y="495" width="1" height="1" fill="#0000ff"/>
<rect x="145" y="496" width="1" height="1" fill="#0000ff"/>
<rect x="149" y="496" width="1" height="1" fill="#0000ff"/>
<rect x="146" y="497" width="1" height="1" fill="#0000ff"/>
<rect x="148" y="497" width="1" height="1" fill="#0000ff"/>
<rect x="147" y="498" width="1" height="1" fill="#0000ff"/>
<rect x="147" y="498" width="1" height="1" fill="#0000ff"/>
<rect x="169" y="467" width="9" height="1" fill="#000080"/>
<rect x="169" y="469" width="9" height="1" fill="#000080"/>
<rect x="173" y="462" width="1" height="5" fill="#000080"/>
<rect x="173" y="470" width="1" height="5" fill="#000080"/>
<rect x="173" y="475" width="1" height="20" fill="#0000ff"/>
<rect x="169" y="494" width="9" height="1" fill="#0000ff"/>
<rect x="170" y="495" width="1" height="1" fill="#0000ff"/>
<rect x="176" y="495" width="1" height="1" fill="#0000ff"/>
<rect x="171" y="496" width="1" height="1" fill="#0000ff"/>
<rect x="175" y="496" width="1" height="1" fill="#0000ff"/>
<rect x="172" y="497" width="1" height="1" fill="#0000ff"/>
<rect x="174" y="497" width="1" height="1" fill="#0000ff"/>
<rect x="173" y="498" width="1" height="1" fill="#0000ff"/>
<rect x="173" y="498" width="1" height="1" fill="#0000ff"/>
<circle cx="221" cy="402" r="10.5" fill="none" stroke="#000080" stroke-width="1"/>
<rect x="221" y="391" width="1" height="7" fill="#000080"/>
<rect x="217" y="398" width="10" height="2" fill="#000080"/>
<rect x="210" y="402" width="6" height="1" fill="#000080"/>
<rect x="217" y="402" width="3" height="1" fill="#000080"/>
<rect x="221" y="402" width="2" height="1" fill="#000080"/>
<rect x="224" y="402" width="3" height="1" fill="#000080"/>
<rect x="228" y="402" width="4" height="1" fill="#000080"/>
<rect x="216" y="405" width="12" height="1" fill="#000080"/>
<rect x="215" y="406" width="14" height="1" fill="#000080"/>
<rect x="214" y="406" width="1" height="1" fill="#000080"/>
<rect x="213" y="407" width="1" height="6" fill="#000080"/>
<rect x="213" y="411" width="1" height="32" fill="#0000ff"/>
<rect x="212" y="441" width="3" height="3" fill="#0000ff"/>
<rect x="213" y="442" width="104" height="1" fill="#0000ff"/>
<rect x="322" y="438" width="1" height="9" fill="#000080"/>
<rect x="324" y="438" width="1" height="9" fill="#000080"/>
<rect x="317" y="442" width="5" height="1" fill="#000080"/>
<rect x="325" y="442" width="6" height="1" fill="#000080"/>
<rect x="330" y="442" width="14" height="1" fill="#0000ff"/>
<polyline points="344.5,442.5 345.5,439.5 349.5,446.5 353.5,439.5 357.5,446.5 359.5,442.5" fill="none" stroke="#000080" stroke-width="1"/>
<rect x="359" y="442" width="32" height="1" fill="#0000ff"/>
<rect x="396" y="438" width="1" height="9" fill="#000080"/>
<rect x="398" y="438" width="1" height="9" fill="#000080"/>
<rect x="391" y="442" width="5" height="1" fill="#000080"/>
<rect x="399" y="442" width="6" height="1" fill="#000080"/>
<rect x="404" y="442" width="16" height="1" fill="#0000ff"/>
<rect x="419" y="442" width="1" height="63" fill="#0000ff"/>
<polyline points="419.5,504.5 422.5,506.0 415.5,510.0 422.5,514.0 415.5,517.5 419.5,519.5" fill="none" stroke="#000080" stroke-width="1"/>
<rect x="419" y="520" width="1" height="67" fill="#0000ff"/>
<rect x="415" y="586" width="9" height="1" fill="#0000ff"/>
<rect x="416" y="587" width="1" height="1" fill="#0000ff"/>
<rect x="422" y="587" width="1" height="1" fill="#0000ff"/>
<rect x="417" y="588" width="1" height="1" fill="#0000ff"/>
<rect x="421" y="588" width="1" height="1" fill="#0000ff"/>
<rect x="418" y="589" width="1" height="1" fill="#0000ff"/>
<rect x="420" y="589" width="1" height="1" fill="#0000ff"/>
<rect x="419" y="590" width="1" height="1" fill="#0000ff"/>
<rect x="419" y="590" width="1" height="1" fill="#0000ff"/>
<rect x="300" y="441" width="3" height="3" fill="#0000ff"/>
<rect x="374" y="441" width="3" height="3" fill="#0000ff"/>
<rect x="213" y="442" width="1" height="14" fill="#0000ff"/>
<polyline points="213.5,455.5 216.5,457.0 209.5,461.0 216.5,465.0 209.5,468.5 213.5,470.5" fill="none" stroke="#000080" stroke-width="1"/>
<rect x="213" y="471" width="1" height="23" fill="#0000ff"/>
<rect x="209" y="493" width="9" height="1" fill="#0000ff"/>
<rect x="210" y="494" width="1" height="1" fill="#0000ff"/>
<rect x="216" y="494" width="1" height="1" fill="#0000ff"/>
<rect x="211" y="495" width="1" height="1" fill="#0000ff"/>
<rect x="215" y="495" width="1" height="1" fill="#0000ff"/>
<rect x="212" y="496" width="1" height="1" fill="#0000ff"/>
<rect x="214" y="496" width="1" height="1" fill="#0000ff"/>
<rect x="213" y="497" width="1" height="1" fill="#0000ff"/>
<rect x="213" y="497" width="1" height="1" fill="#0000ff"/>
<rect x="301" y="442" width="1" height="18" fill="#0000ff"/>
<polyline points="301.5,459.5 304.5,461.0 297.5,465.0 304.5,469.0 297.5,472.5 301.5,474.5" fill="none" stroke="#000080" stroke-width="1"/>
<rect x="301" y="475" width="1" height="64" fill="#0000ff"/>
<rect x="301" y="538" width="31" height="1" fill="#0000ff"/>
<rect x="337" y="534" width="1" height="9" fill="#000080"/>
<rect x="339" y="534" width="1" height="9" fill="#000080"/>
<rect x="332" y="538" width="5" height="1" fill="#000080"/>
<rect x="340" y="538" width="6" height="1" fill="#000080"/>
<rect x="345" y="538" width="31" height="1" fill="#0000ff"/>
<rect x="301" y="490" width="31" height="1" fill="#0000ff"/>
<rect x="337" y="486" width="1" height="9" fill="#000080"/>
<rect x="339" y="486" width="1" height="9" fill="#000080"/>
<rect x="332" y="490" width="5" height="1" fill="#000080"/>
<rect x="340" y="490" width="6" height="1" fill="#000080"/>
<rect x="345" y="490" width="31" height="1" fill="#0000ff"/>
<rect x="300" y="489" width="3" height="3" fill="#0000ff"/>
<rect x="374" y="489" width="3" height="3" fill="#0000ff"/>
<rect x="374" y="537" width="3" height="3" fill="#0000ff"/>
<rect x="375" y="442" width="1" height="18" fill="#0000ff"/>
<polyline points="375.5,459.5 378.5,461.0 371.5,465.0 378.5,469.0 371.5,472.5 375.5,474.5" fill="none" stroke="#000080" stroke-width="1"/>
<rect x="375" y="475" width="1" height="33" fill="#0000ff"/>
<polyline points="375.5,507.5 378.5,509.0 371.5,513.0 378.5,517.0 371.5,520.5 375.5,522.5" fill="none" stroke="#000080" stroke-width="1"/>
<rect x="375" y="523" width="1" height="33" fill="#0000ff"/>
<polyline points="375.5,555.5 378.5,557.0 371.5,561.0 378.5,565.0 371.5,568.5 375.5,570.5" fill="none" stroke="#000080" stroke-width="1"/>
<rect x="375" y="571" width="1" height="16" fill="#0000ff"/>
<rect x="371" y="586" width="9" height="1" fill="#0000ff"/>
<rect x="372" y="587" width="1" height="1" fill="#0000ff"/>
<rect x="378" y="587" width="1" height="1" fill="#0000ff"/>
<rect x="373" y="588" width="1" height="1" fill="#0000ff"/>
<rect x="377" y="588" width="1" height="1" fill="#0000ff"/>
<rect x="374" y="589" width="1" height="1" fill="#0000ff"/>
<rect x="376" y="589" width="1" height="1" fill="#0000ff"/>
<rect x="375" y="590" width="1" height="1" fill="#0000ff"/>
<rect x="375" y="590" width="1" height="1" fill="#0000ff"/>
<rect x="584" y="340" width="126" height="1" fill="#0000ff"/>
<rect x="584" y="340" width="1" height="27" fill="#0000ff"/>
<polyline points="584.5,366.5 587.5,368.0 580.5,372.0 587.5,376.0 580.5,379.5 584.5,381.5" fill="none" stroke="#000080" stroke-width="1"/>
<rect x="584" y="382" width="1" height="32" fill="#0000ff"/>
<rect x="583" y="397" width="3" height="3" fill="#0000ff"/>
<rect x="584" y="398" width="67" height="1" fill="#0000ff"/>
<rect x="650" y="398" width="1" height="49" fill="#0000ff"/>
<rect x="709" y="340" width="1" height="12" fill="#0000ff"/>
<circle cx="709.5" cy="359.5" r="7.1" fill="none" stroke="#000080" stroke-width="1"/>
<rect x="709" y="352" width="1" height="6" fill="#000080"/>
<rect x="707" y="355" width="4" height="1" fill="#000080"/>
<rect x="707" y="364" width="4" height="1" fill="#000080"/>
<rect x="709" y="367" width="1" height="19" fill="#0000ff"/>
<rect x="705" y="385" width="9" height="1" fill="#0000ff"/>
<rect x="706" y="386" width="1" height="1" fill="#0000ff"/>
<rect x="712" y="386" width="1" height="1" fill="#0000ff"/>
<rect x="707" y="387" width="1" height="1" fill="#0000ff"/>
<rect x="711" y="387" width="1" height="1" fill="#0000ff"/>
<rect x="708" y="388" width="1" height="1" fill="#0000ff"/>
<rect x="710" y="388" width="1" height="1" fill="#0000ff"/>
<rect x="709" y="389" width="1" height="1" fill="#0000ff"/>
<rect x="709" y="389" width="1" height="1" fill="#0000ff"/>
<rect x="459" y="424" width="115" height="1" fill="#0000ff"/>
<rect x="510" y="423" width="3" height="3" fill="#0000ff"/>
<rect x="459" y="424" width="1" height="24" fill="#0000ff"/>
<circle cx="459.5" cy="455.5" r="7.1" fill="none" stroke="#000080" stroke-width="1"/>
<rect x="459" y="448" width="1" height="6" fill="#000080"/>
<rect x="457" y="451" width="4" height="1" fill="#000080"/>
<rect x="457" y="460" width="4" height="1" fill="#000080"/>
<rect x="459" y="463" width="1" height="28" fill="#0000ff"/>
<rect x="455" y="490" width="9" height="1" fill="#0000ff"/>
<rect x="456" y="491" width="1" height="1" fill="#0000ff"/>
<rect x="462" y="491" width="1" height="1" fill="#0000ff"/>
<rect x="457" y="492" width="1" height="1" fill="#0000ff"/>
<rect x="461" y="492" width="1" height="1" fill="#0000ff"/>
<rect x="458" y="493" width="1" height="1" fill="#0000ff"/>
<rect x="460" y="493" width="1" height="1" fill="#0000ff"/>
<rect x="459" y="494" width="1" height="1" fill="#0000ff"/>
<rect x="459" y="494" width="1" height="1" fill="#0000ff"/>
<rect x="511" y="424" width="1" height="35" fill="#0000ff"/>
<polyline points="511.5,458.5 514.5,460.0 507.5,464.0 514.5,468.0 507.5,471.5 511.5,473.5" fill="none" stroke="#000080" stroke-width="1"/>
<rect x="511" y="474" width="1" height="21" fill="#0000ff"/>
<rect x="507" y="494" width="9" height="1" fill="#0000ff"/>
<rect x="508" y="495" width="1" height="1" fill="#0000ff"/>
<rect x="514" y="495" width="1" height="1" fill="#0000ff"/>
<rect x="509" y="496" width="1" height="1" fill="#0000ff"/>
<rect x="513" y="496" width="1" height="1" fill="#0000ff"/>
<rect x="510" y="497" width="1" height="1" fill="#0000ff"/>
<rect x="512" y="497" width="1" height="1" fill="#0000ff"/>
<rect x="511" y="498" width="1" height="1" fill="#0000ff"/>
<rect x="511" y="498" width="1" height="1" fill="#0000ff"/>
<circle cx="584" cy="424" r="10.5" fill="none" stroke="#000080" stroke-width="1"/>
<rect x="584" y="413" width="1" height="7" fill="#000080"/>
<rect x="580" y="420" width="10" height="2" fill="#000080"/>
<rect x="573" y="424" width="6" height="1" fill="#000080"/>
<rect x="580" y="424" width="3" height="1" fill="#000080"/>
<rect x="584" y="424" width="2" height="1" fill="#000080"/>
<rect x="587" y="424" width="3" height="1" fill="#000080"/>
<rect x="591" y="424" width="4" height="1" fill="#000080"/>
<rect x="579" y="427" width="12" height="1" fill="#000080"/>
<rect x="578" y="428" width="14" height="1" fill="#000080"/>
<rect x="578" y="428" width="1" height="1" fill="#000080"/>
<rect x="577" y="429" width="1" height="6" fill="#000080"/>
<rect x="577" y="434" width="1" height="17" fill="#0000ff"/>
<rect x="576" y="449" width="3" height="3" fill="#0000ff"/>
<rect x="577" y="450" width="27" height="1" fill="#0000ff"/>
<rect x="603" y="450" width="1" height="12" fill="#0000ff"/>
<rect x="577" y="450" width="1" height="9" fill="#0000ff"/>
<polyline points="577.5,458.5 580.5,460.0 573.5,464.0 580.5,468.0 573.5,471.5 577.5,473.5" fill="none" stroke="#000080" stroke-width="1"/>
<rect x="577" y="474" width="1" height="21" fill="#0000ff"/>
<rect x="573" y="494" width="9" height="1" fill="#0000ff"/>
<rect x="574" y="495" width="1" height="1" fill="#0000ff"/>
<rect x="580" y="495" width="1" height="1" fill="#0000ff"/>
<rect x="575" y="496" width="1" height="1" fill="#0000ff"/>
<rect x="579" y="496" width="1" height="1" fill="#0000ff"/>
<rect x="576" y="497" width="1" height="1" fill="#0000ff"/>
<rect x="578" y="497" width="1" height="1" fill="#0000ff"/>
<rect x="577" y="498" width="1" height="1" fill="#0000ff"/>
<rect x="577" y="498" width="1" height="1" fill="#0000ff"/>
<rect x="599" y="467" width="9" height="1" fill="#000080"/>
<rect x="599" y="469" width="9" height="1" fill="#000080"/>
<rect x="603" y="462" width="1" height="5" fill="#000080"/>
<rect x="603" y="470" width="1" height="5" fill="#000080"/>
<rect x="603" y="475" width="1" height="20" fill="#0000ff"/>
<rect x="599" y="494" width="9" height="1" fill="#0000ff"/>
<rect x="600" y="495" width="1" height="1" fill="#0000ff"/>
<rect x="606" y="495" width="1" height="1" fill="#0000ff"/>
<rect x="601" y="496" width="1" height="1" fill="#0000ff"/>
<rect x="605" y="496" width="1" height="1" fill="#0000ff"/>
<rect x="602" y="497" width="1" height="1" fill="#0000ff"/>
<rect x="604" y="497" width="1" height="1" fill="#0000ff"/>
<rect x="603" y="498" width="1" height="1" fill="#0000ff"/>
<rect x="603" y="498" width="1" height="1" fill="#0000ff"/>
<rect x="649" y="445" width="3" height="3" fill="#0000ff"/>
<rect x="650" y="446" width="16" height="1" fill="#0000ff"/>
<rect x="671" y="442" width="1" height="9" fill="#000080"/>
<rect x="673" y="442" width="1" height="9" fill="#000080"/>
<rect x="666" y="446" width="5" height="1" fill="#000080"/>
<rect x="674" y="446" width="6" height="1" fill="#000080"/>
<rect x="679" y="446" width="13" height="1" fill="#0000ff"/>
<polyline points="692.5,446.5 693.5,443.5 697.5,450.5 701.5,443.5 705.5,450.5 707.5,446.5" fill="none" stroke="#000080" stroke-width="1"/>
<rect x="707" y="446" width="34" height="1" fill="#0000ff"/>
<rect x="745" y="442" width="1" height="9" fill="#000080"/>
<rect x="747" y="442" width="1" height="9" fill="#000080"/>
<rect x="740" y="446" width="5" height="1" fill="#000080"/>
<rect x="748" y="446" width="6" height="1" fill="#000080"/>
<rect x="753" y="446" width="16" height="1" fill="#0000ff"/>
<rect x="768" y="446" width="1" height="62" fill="#0000ff"/>
<polyline points="768.5,507.5 771.5,509.0 764.5,513.0 771.5,517.0 764.5,520.5 768.5,522.5" fill="none" stroke="#000080" stroke-width="1"/>
<rect x="768" y="523" width="1" height="67" fill="#0000ff"/>
<rect x="764" y="589" width="9" height="1" fill="#0000ff"/>
<rect x="765" y="590" width="1" height="1" fill="#0000ff"/>
<rect x="771" y="590" width="1" height="1" fill="#0000ff"/>
<rect x="766" y="591" width="1" height="1" fill="#0000ff"/>
<rect x="770" y="591" width="1" height="1" fill="#0000ff"/>
<rect x="767" y="592" width="1" height="1" fill="#0000ff"/>
<rect x="769" y="592" width="1" height="1" fill="#0000ff"/>
<rect x="768" y="593" width="1" height="1" fill="#0000ff"/>
<rect x="768" y="593" width="1" height="1" fill="#0000ff"/>
<rect x="723" y="445" width="3" height="3" fill="#0000ff"/>
<rect x="650" y="446" width="1" height="18" fill="#0000ff"/>
<polyline points="650.5,463.5 653.5,465.0 646.5,469.0 653.5,473.0 646.5,476.5 650.5,478.5" fill="none" stroke="#000080" stroke-width="1"/>
<rect x="650" y="479" width="1" height="64" fill="#0000ff"/>
<rect x="650" y="542" width="31" height="1" fill="#0000ff"/>
<rect x="686" y="538" width="1" height="9" fill="#000080"/>
<rect x="688" y="538" width="1" height="9" fill="#000080"/>
<rect x="681" y="542" width="5" height="1" fill="#000080"/>
<rect x="689" y="542" width="6" height="1" fill="#000080"/>
<rect x="694" y="542" width="31" height="1" fill="#0000ff"/>
<rect x="650" y="494" width="31" height="1" fill="#0000ff"/>
<rect x="686" y="490" width="1" height="9" fill="#000080"/>
<rect x="688" y="490" width="1" height="9" fill="#000080"/>
<rect x="681" y="494" width="5" height="1" fill="#000080"/>
<rect x="689" y="494" width="6" height="1" fill="#000080"/>
<rect x="694" y="494" width="31" height="1" fill="#0000ff"/>
<rect x="649" y="493" width="3" height="3" fill="#0000ff"/>
<rect x="723" y="493" width="3" height="3" fill="#0000ff"/>
<rect x="723" y="541" width="3" height="3" fill="#0000ff"/>
<rect x="724" y="446" width="1" height="18" fill="#0000ff"/>
<polyline points="724.5,463.5 727.5,465.0 720.5,469.0 727.5,473.0 720.5,476.5 724.5,478.5" fill="none" stroke="#000080" stroke-width="1"/>
<rect x="724" y="479" width="1" height="33" fill="#0000ff"/>
<polyline points="724.5,511.5 727.5,513.0 720.5,517.0 727.5,521.0 720.5,524.5 724.5,526.5" fill="none" stroke="#000080" stroke-width="1"/>
<rect x="724" y="527" width="1" height="33" fill="#0000ff"/>
<polyline points="724.5,559.5 727.5,561.0 720.5,565.0 727.5,569.0 720.5,572.5 724.5,574.5" fill="none" stroke="#000080" stroke-width="1"/>
<rect x="724" y="575" width="1" height="15" fill="#0000ff"/>
<rect x="720" y="589" width="9" height="1" fill="#0000ff"/>
<rect x="721" y="590" width="1" height="1" fill="#0000ff"/>
<rect x="727" y="590" width="1" height="1" fill="#0000ff"/>
<rect x="722" y="591" width="1" height="1" fill="#0000ff"/>
<rect x="726" y="591" width="1" height="1" fill="#0000ff"/>
<rect x="723" y="592" width="1" height="1" fill="#0000ff"/>
<rect x="725" y="592" width="1" height="1" fill="#0000ff"/>
<rect x="724" y="593" width="1" height="1" fill="#0000ff"/>
<rect x="724" y="593" width="1" height="1" fill="#0000ff"/>
</g>
<g>
<text x="53" y="365" font-size="4.9" font-weight="bold" fill="#000" stroke="#000" stroke-width="0.15" style="letter-spacing:0.12px">.inc 12AX7.sub</text>
<text x="53" y="375" font-size="4.9" font-weight="bold" fill="#000" stroke="#000" stroke-width="0.15" style="letter-spacing:0.12px">.inc 12AT7.sub</text>
<text x="52" y="408" font-size="4.9" font-weight="bold" fill="#000" stroke="#000" stroke-width="0.15" style="letter-spacing:0.15px">.ac oct 20 40 20k</text>
<text x="159" y="372.5" font-size="5.2" font-weight="bold" fill="#000" stroke="#000" stroke-width="0.15" style="letter-spacing:-0.12px">R1</text>
<text x="159" y="380.5" font-size="5.2" font-weight="bold" fill="#000" stroke="#000" stroke-width="0.15" style="letter-spacing:-0.12px">100k</text>
<text x="157" y="410.5" font-size="5.2" font-weight="bold" fill="#000" stroke="#000" stroke-width="0.15" style="letter-spacing:-0.12px">U1</text>
<text x="149" y="440.5" font-size="5.2" font-weight="bold" fill="#000" stroke="#000" stroke-width="0.15" style="letter-spacing:-0.12px">12AX7</text>
<text x="35" y="448" font-size="5.2" font-weight="bold" fill="#000" stroke="#000" stroke-width="0.15" style="letter-spacing:-0.12px">V1</text>
<text x="35" y="466" font-size="5.2" font-weight="bold" fill="#000" stroke="#000" stroke-width="0.15" style="letter-spacing:-0.12px">SINE(0 0.5 1k)</text>
<text x="35" y="473" font-size="5.2" font-weight="bold" fill="#000" stroke="#000" stroke-width="0.15" style="letter-spacing:-0.12px">AC 0.3</text>
<text x="35" y="479" font-size="5.2" font-weight="bold" fill="#000" stroke="#000" stroke-width="0.15" style="letter-spacing:-0.12px">Rser=12k</text>
<text x="86" y="464.5" font-size="5.2" font-weight="bold" fill="#000" stroke="#000" stroke-width="0.15" style="letter-spacing:-0.12px">R3</text>
<text x="86" y="472.5" font-size="5.2" font-weight="bold" fill="#000" stroke="#000" stroke-width="0.15" style="letter-spacing:-0.12px">1meg</text>
<text x="152" y="464.5" font-size="5.2" font-weight="bold" fill="#000" stroke="#000" stroke-width="0.15" style="letter-spacing:-0.12px">R2</text>
<text x="152" y="472.5" font-size="5.2" font-weight="bold" fill="#000" stroke="#000" stroke-width="0.15" style="letter-spacing:-0.12px">820</text>
<text x="175" y="464.5" font-size="5.2" font-weight="bold" fill="#000" stroke="#000" stroke-width="0.15" style="letter-spacing:-0.12px">C9</text>
<text x="175" y="475.5" font-size="5.2" font-weight="bold" fill="#000" stroke="#000" stroke-width="0.15" style="letter-spacing:-0.12px">1µ</text>
<text x="285" y="353" font-size="5.2" font-weight="bold" fill="#000" stroke="#000" stroke-width="0.15" style="letter-spacing:-0.12px">V2</text>
<text x="285" y="371" font-size="5.2" font-weight="bold" fill="#000" stroke="#000" stroke-width="0.15" style="letter-spacing:-0.12px">330</text>
<text x="222" y="388.5" font-size="5.2" font-weight="bold" fill="#000" stroke="#000" stroke-width="0.15" style="letter-spacing:-0.12px">U2</text>
<text x="215" y="418.5" font-size="5.2" font-weight="bold" fill="#000" stroke="#000" stroke-width="0.15" style="letter-spacing:-0.12px">12AX7</text>
<text x="320" y="438" font-size="5.2" font-weight="bold" fill="#000" stroke="#000" stroke-width="0.15" style="letter-spacing:-0.12px">C2</text>
<text x="317" y="451" font-size="5.2" font-weight="bold" fill="#000" stroke="#000" stroke-width="0.15" style="letter-spacing:-0.12px">500p</text>
<text x="346" y="438" font-size="5.2" font-weight="bold" fill="#000" stroke="#000" stroke-width="0.15" style="letter-spacing:-0.12px">R10</text>
<text x="346" y="451" font-size="5.2" font-weight="bold" fill="#000" stroke="#000" stroke-width="0.15" style="letter-spacing:-0.12px">50k</text>
<text x="393" y="438" font-size="5.2" font-weight="bold" fill="#000" stroke="#000" stroke-width="0.15" style="letter-spacing:-0.12px">C4</text>
<text x="392" y="451" font-size="5.2" font-weight="bold" fill="#000" stroke="#000" stroke-width="0.15" style="letter-spacing:-0.12px">22n</text>
<text x="218" y="460.5" font-size="5.2" font-weight="bold" fill="#000" stroke="#000" stroke-width="0.15" style="letter-spacing:-0.12px">R5</text>
<text x="218" y="468.5" font-size="5.2" font-weight="bold" fill="#000" stroke="#000" stroke-width="0.15" style="letter-spacing:-0.12px">100k</text>
<text x="306" y="465" font-size="5.2" font-weight="bold" fill="#000" stroke="#000" stroke-width="0.15" style="letter-spacing:-0.12px">R7</text>
<text x="306" y="473.5" font-size="5.2" font-weight="bold" fill="#000" stroke="#000" stroke-width="0.15" style="letter-spacing:-0.12px">33k</text>
<text x="380" y="465" font-size="5.2" font-weight="bold" fill="#000" stroke="#000" stroke-width="0.15" style="letter-spacing:-0.12px">R6</text>
<text x="380" y="473.5" font-size="5.2" font-weight="bold" fill="#000" stroke="#000" stroke-width="0.15" style="letter-spacing:-0.12px">200k</text>
<text x="334" y="485" font-size="5.2" font-weight="bold" fill="#000" stroke="#000" stroke-width="0.15" style="letter-spacing:-0.12px">C1</text>
<text x="333" y="499" font-size="5.2" font-weight="bold" fill="#000" stroke="#000" stroke-width="0.15" style="letter-spacing:-0.12px">22n</text>
<text x="379" y="512" font-size="5.2" font-weight="bold" fill="#000" stroke="#000" stroke-width="0.15" style="letter-spacing:-0.12px">R8</text>
<text x="379" y="521" font-size="5.2" font-weight="bold" fill="#000" stroke="#000" stroke-width="0.15" style="letter-spacing:-0.12px">70k</text>
<text x="334" y="533" font-size="5.2" font-weight="bold" fill="#000" stroke="#000" stroke-width="0.15" style="letter-spacing:-0.12px">C3</text>
<text x="333" y="547" font-size="5.2" font-weight="bold" fill="#000" stroke="#000" stroke-width="0.15" style="letter-spacing:-0.12px">22n</text>
<text x="379" y="560" font-size="5.2" font-weight="bold" fill="#000" stroke="#000" stroke-width="0.15" style="letter-spacing:-0.12px">R9</text>
<text x="379" y="568" font-size="5.2" font-weight="bold" fill="#000" stroke="#000" stroke-width="0.15" style="letter-spacing:-0.12px">10k</text>
<text x="423" y="509" font-size="5.2" font-weight="bold" fill="#000" stroke="#000" stroke-width="0.15" style="letter-spacing:-0.12px">R11</text>
<text x="423" y="517" font-size="5.2" font-weight="bold" fill="#000" stroke="#000" stroke-width="0.15" style="letter-spacing:-0.12px">1000k</text>
<text x="589" y="372.5" font-size="5.2" font-weight="bold" fill="#000" stroke="#000" stroke-width="0.15" style="letter-spacing:-0.12px">R16</text>
<text x="589" y="380.5" font-size="5.2" font-weight="bold" fill="#000" stroke="#000" stroke-width="0.15" style="letter-spacing:-0.12px">100k</text>
<text x="587" y="410.5" font-size="5.2" font-weight="bold" fill="#000" stroke="#000" stroke-width="0.15" style="letter-spacing:-0.12px">U3</text>
<text x="579" y="440.5" font-size="5.2" font-weight="bold" fill="#000" stroke="#000" stroke-width="0.15" style="letter-spacing:-0.12px">12AT7</text>
<text x="465" y="448" font-size="5.2" font-weight="bold" fill="#000" stroke="#000" stroke-width="0.15" style="letter-spacing:-0.12px">V3</text>
<text x="465" y="466" font-size="5.2" font-weight="bold" fill="#000" stroke="#000" stroke-width="0.15" style="letter-spacing:-0.12px">SINE(0 0.5 1k)</text>
<text x="465" y="473" font-size="5.2" font-weight="bold" fill="#000" stroke="#000" stroke-width="0.15" style="letter-spacing:-0.12px">AC 0.3</text>
<text x="465" y="479" font-size="5.2" font-weight="bold" fill="#000" stroke="#000" stroke-width="0.15" style="letter-spacing:-0.12px">Rser=12k</text>
<text x="516" y="464.5" font-size="5.2" font-weight="bold" fill="#000" stroke="#000" stroke-width="0.15" style="letter-spacing:-0.12px">R17</text>
<text x="516" y="472.5" font-size="5.2" font-weight="bold" fill="#000" stroke="#000" stroke-width="0.15" style="letter-spacing:-0.12px">1meg</text>
<text x="582" y="464.5" font-size="5.2" font-weight="bold" fill="#000" stroke="#000" stroke-width="0.15" style="letter-spacing:-0.12px">R18</text>
<text x="582" y="472.5" font-size="5.2" font-weight="bold" fill="#000" stroke="#000" stroke-width="0.15" style="letter-spacing:-0.12px">820</text>
<text x="605" y="464.5" font-size="5.2" font-weight="bold" fill="#000" stroke="#000" stroke-width="0.15" style="letter-spacing:-0.12px">C10</text>
<text x="605" y="475.5" font-size="5.2" font-weight="bold" fill="#000" stroke="#000" stroke-width="0.15" style="letter-spacing:-0.12px">1µ</text>
<text x="716" y="353" font-size="5.2" font-weight="bold" fill="#000" stroke="#000" stroke-width="0.15" style="letter-spacing:-0.12px">V4</text>
<text x="715" y="371" font-size="5.2" font-weight="bold" fill="#000" stroke="#000" stroke-width="0.15" style="letter-spacing:-0.12px">330</text>
<text x="668" y="441" font-size="5.2" font-weight="bold" fill="#000" stroke="#000" stroke-width="0.15" style="letter-spacing:-0.12px">C6</text>
<text x="666" y="455" font-size="5.2" font-weight="bold" fill="#000" stroke="#000" stroke-width="0.15" style="letter-spacing:-0.12px">500p</text>
<text x="695" y="441" font-size="5.2" font-weight="bold" fill="#000" stroke="#000" stroke-width="0.15" style="letter-spacing:-0.12px">R15</text>
<text x="695" y="455" font-size="5.2" font-weight="bold" fill="#000" stroke="#000" stroke-width="0.15" style="letter-spacing:-0.12px">50k</text>
<text x="742" y="441" font-size="5.2" font-weight="bold" fill="#000" stroke="#000" stroke-width="0.15" style="letter-spacing:-0.12px">C8</text>
<text x="742" y="455" font-size="5.2" font-weight="bold" fill="#000" stroke="#000" stroke-width="0.15" style="letter-spacing:-0.12px">22n</text>
<text x="655" y="468" font-size="5.2" font-weight="bold" fill="#000" stroke="#000" stroke-width="0.15" style="letter-spacing:-0.12px">R12</text>
<text x="655" y="476.5" font-size="5.2" font-weight="bold" fill="#000" stroke="#000" stroke-width="0.15" style="letter-spacing:-0.12px">33k</text>
<text x="729" y="468" font-size="5.2" font-weight="bold" fill="#000" stroke="#000" stroke-width="0.15" style="letter-spacing:-0.12px">R4</text>
<text x="729" y="476.5" font-size="5.2" font-weight="bold" fill="#000" stroke="#000" stroke-width="0.15" style="letter-spacing:-0.12px">200k</text>
<text x="683" y="489" font-size="5.2" font-weight="bold" fill="#000" stroke="#000" stroke-width="0.15" style="letter-spacing:-0.12px">C5</text>
<text x="682" y="502" font-size="5.2" font-weight="bold" fill="#000" stroke="#000" stroke-width="0.15" style="letter-spacing:-0.12px">22n</text>
<text x="729" y="516" font-size="5.2" font-weight="bold" fill="#000" stroke="#000" stroke-width="0.15" style="letter-spacing:-0.12px">R13</text>
<text x="729" y="525" font-size="5.2" font-weight="bold" fill="#000" stroke="#000" stroke-width="0.15" style="letter-spacing:-0.12px">70k</text>
<text x="683" y="537" font-size="5.2" font-weight="bold" fill="#000" stroke="#000" stroke-width="0.15" style="letter-spacing:-0.12px">C7</text>
<text x="682" y="550" font-size="5.2" font-weight="bold" fill="#000" stroke="#000" stroke-width="0.15" style="letter-spacing:-0.12px">22n</text>
<text x="729" y="564" font-size="5.2" font-weight="bold" fill="#000" stroke="#000" stroke-width="0.15" style="letter-spacing:-0.12px">R14</text>
<text x="729" y="572" font-size="5.2" font-weight="bold" fill="#000" stroke="#000" stroke-width="0.15" style="letter-spacing:-0.12px">10k</text>
<text x="772" y="512.5" font-size="5.2" font-weight="bold" fill="#000" stroke="#000" stroke-width="0.15" style="letter-spacing:-0.12px">R19</text>
<text x="772" y="521" font-size="5.2" font-weight="bold" fill="#000" stroke="#000" stroke-width="0.15" style="letter-spacing:-0.12px">1000k</text>
</g>
</svg></body></html>
